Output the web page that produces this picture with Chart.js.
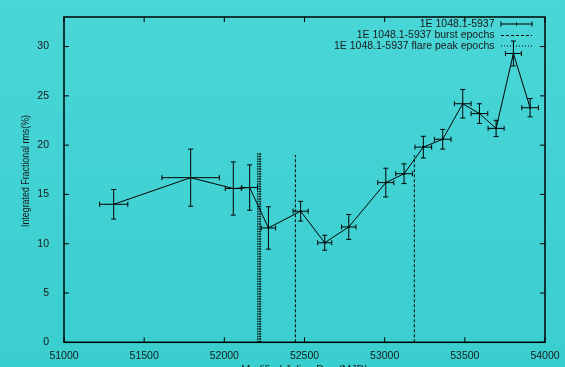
<!DOCTYPE html>
<html>
<head>
<meta charset="utf-8">
<script src="https://cdn.jsdelivr.net/npm/chart.js@4"></script>
<style>
html,body{margin:0;padding:0;}
body{width:565px;height:367px;overflow:hidden;background:linear-gradient(to bottom,#4ad6d7,#39cecf);}
#wrap{position:relative;width:565px;height:367px;}
</style>
</head>
<body>
<div id="wrap"><canvas id="c" width="565" height="367"></canvas></div>
<script>
// ---- data ----
const seriesName = '1E 1048.1-5937';
const mjd    = [51310, 51790, 52056, 52158, 52275, 52476, 52626, 52776, 53007, 53121, 53241, 53362, 53487, 53591, 53695, 53803, 53907];
const rms    = [14.0, 16.7, 15.6, 15.7, 11.6, 13.3, 10.1, 11.7, 16.2, 17.1, 19.8, 20.6, 24.2, 23.2, 21.7, 29.3, 23.8];
const mjdErr = [88, 179, 50, 49, 45, 47, 44, 45, 50, 52, 52, 52, 52, 52, 50, 50, 52];
const rmsErr = [1.5, 2.9, 2.7, 2.3, 2.15, 1.0, 0.76, 1.26, 1.46, 1.0, 1.1, 1.0, 1.45, 1.0, 0.82, 1.26, 0.93];
const burstEpochs = [52443, 53185];
const burstHeight = 19.0;
const flareEpochs = [52208, 52218, 52226];
const flareHeight = 19.2;
const xTicks = [51000, 51500, 52000, 52500, 53000, 53500, 54000];
const yTicks = [0, 5, 10, 15, 20, 25, 30];
const xTitle = 'Modified Julian Day (MJD)';
const yTitle = 'Integrated Fractional rms(%)';
const legendLabels = [seriesName, seriesName + ' burst epochs', seriesName + ' flare peak epochs'];

function vlines(xs, h){
  const out = [];
  xs.forEach(x => { out.push({x:x,y:0}); out.push({x:x,y:h}); out.push({x:x,y:null}); });
  return out;
}

const FONT = '"Liberation Sans", Arial, sans-serif';

const framePlugin = {
  id:'frame',
  beforeDatasetsDraw(chart){
    const {ctx, chartArea:a, scales:{x, y}} = chart;
    ctx.save();
    ctx.strokeStyle = '#000';
    ctx.lineWidth = 1;
    const cap = 2.5;
    for (let i=0;i<mjd.length;i++){
      const px = x.getPixelForValue(mjd[i]);
      const py = y.getPixelForValue(rms[i]);
      const x0 = x.getPixelForValue(mjd[i]-mjdErr[i]);
      const x1 = x.getPixelForValue(mjd[i]+mjdErr[i]);
      const y0 = y.getPixelForValue(rms[i]-rmsErr[i]);
      const y1 = y.getPixelForValue(rms[i]+rmsErr[i]);
      ctx.beginPath();
      ctx.moveTo(x0,py); ctx.lineTo(x1,py);
      ctx.moveTo(x0,py-cap); ctx.lineTo(x0,py+cap);
      ctx.moveTo(x1,py-cap); ctx.lineTo(x1,py+cap);
      ctx.moveTo(px,y0); ctx.lineTo(px,y1);
      ctx.moveTo(px-cap,y0); ctx.lineTo(px+cap,y0);
      ctx.moveTo(px-cap,y1); ctx.lineTo(px+cap,y1);
      ctx.stroke();
    }
    ctx.restore();
  },
  afterDraw(chart){
    const {ctx, chartArea:a, scales:{x, y}} = chart;
    ctx.save();
    ctx.strokeStyle = '#000';
    ctx.lineWidth = 1.5;
    ctx.strokeRect(a.left, a.top, a.right-a.left, a.bottom-a.top);
    ctx.lineWidth = 1;
    const tl = 5;
    ctx.beginPath();
    xTicks.forEach(v => {
      const p = x.getPixelForValue(v);
      ctx.moveTo(p, a.bottom); ctx.lineTo(p, a.bottom - tl);
      ctx.moveTo(p, a.top); ctx.lineTo(p, a.top + tl);
    });
    yTicks.forEach(v => {
      const p = y.getPixelForValue(v);
      ctx.moveTo(a.left, p); ctx.lineTo(a.left + tl, p);
      ctx.moveTo(a.right, p); ctx.lineTo(a.right - tl, p);
    });
    ctx.stroke();

    ctx.fillStyle = '#1a1a1a';
    ctx.font = '10.8px ' + FONT;
    ctx.textAlign = 'center';
    ctx.textBaseline = 'middle';
    ctx.fillText(xTitle, (a.left + a.right)/2, 370);
    ctx.save();
    ctx.translate(26, 171);
    ctx.rotate(-Math.PI/2);
    ctx.fillText(yTitle, 0, 0, 112);
    ctx.restore();

    ctx.font = '10.5px ' + FONT;
    ctx.textAlign = 'right';
    const rows = [24, 35.5, 46];
    const tx = 494.5, s0 = 501, s1 = 532;
    legendLabels.forEach((t, i) => ctx.fillText(t, tx, rows[i]));
    ctx.strokeStyle = '#000';
    ctx.lineWidth = 1;
    ctx.beginPath();
    ctx.moveTo(s0, rows[0]); ctx.lineTo(s1, rows[0]);
    ctx.moveTo(s0, rows[0]-2.5); ctx.lineTo(s0, rows[0]+2.5);
    ctx.moveTo(s1, rows[0]-2.5); ctx.lineTo(s1, rows[0]+2.5);
    ctx.moveTo((s0+s1)/2, rows[0]-1.5); ctx.lineTo((s0+s1)/2, rows[0]+1.5);
    ctx.stroke();
    ctx.setLineDash([3,2]);
    ctx.beginPath(); ctx.moveTo(s0, rows[1]); ctx.lineTo(s1, rows[1]); ctx.stroke();
    ctx.setLineDash([1,2]);
    ctx.beginPath(); ctx.moveTo(s0, rows[2]); ctx.lineTo(s1, rows[2]); ctx.stroke();
    ctx.restore();
  }
};

new Chart(document.getElementById('c'), {
  type:'line',
  data:{
    datasets:[
      {
        label: legendLabels[0],
        data: mjd.map((v,i)=>({x:v, y:rms[i]})),
        borderColor:'#000', borderWidth:1, tension:0,
        pointRadius:1, pointBackgroundColor:'#000', pointBorderWidth:0
      },
      {
        label: legendLabels[1],
        data: vlines(burstEpochs, burstHeight),
        borderColor:'#000', borderWidth:1, borderDash:[3,2], pointRadius:0, spanGaps:false
      },
      {
        label: legendLabels[2],
        data: vlines(flareEpochs, flareHeight),
        borderColor:'rgba(0,0,0,0.85)', borderWidth:1.2, borderDash:[1.5,1], pointRadius:0, spanGaps:false
      }
    ]
  },
  options:{
    responsive:false,
    animation:false,
    events:[],
    layout:{padding:{top:17, right:20, left:0, bottom:0}},
    plugins:{legend:{display:false}, tooltip:{enabled:false}},
    scales:{
      x:{
        type:'linear', min:51000, max:54000,
        grid:{display:false}, border:{display:false},
        afterBuildTicks: s => { s.ticks = xTicks.map(v=>({value:v})); },
        afterFit: s => { s.height = 24.7; },
        ticks:{color:'#1a1a1a', font:{family:FONT, size:10.5}, padding:0, maxRotation:0, autoSkip:false,
               callback: v => String(v)}
      },
      y:{
        type:'linear', min:0, max:33,
        grid:{display:false}, border:{display:false},
        afterBuildTicks: s => { s.ticks = yTicks.map(v=>({value:v})); },
        afterFit: s => { s.width = 64; },
        ticks:{color:'#1a1a1a', font:{family:FONT, size:10.5}, padding:7, callback: v => String(v)}
      }
    }
  },
  plugins:[framePlugin]
});
</script>
</body>
</html>
